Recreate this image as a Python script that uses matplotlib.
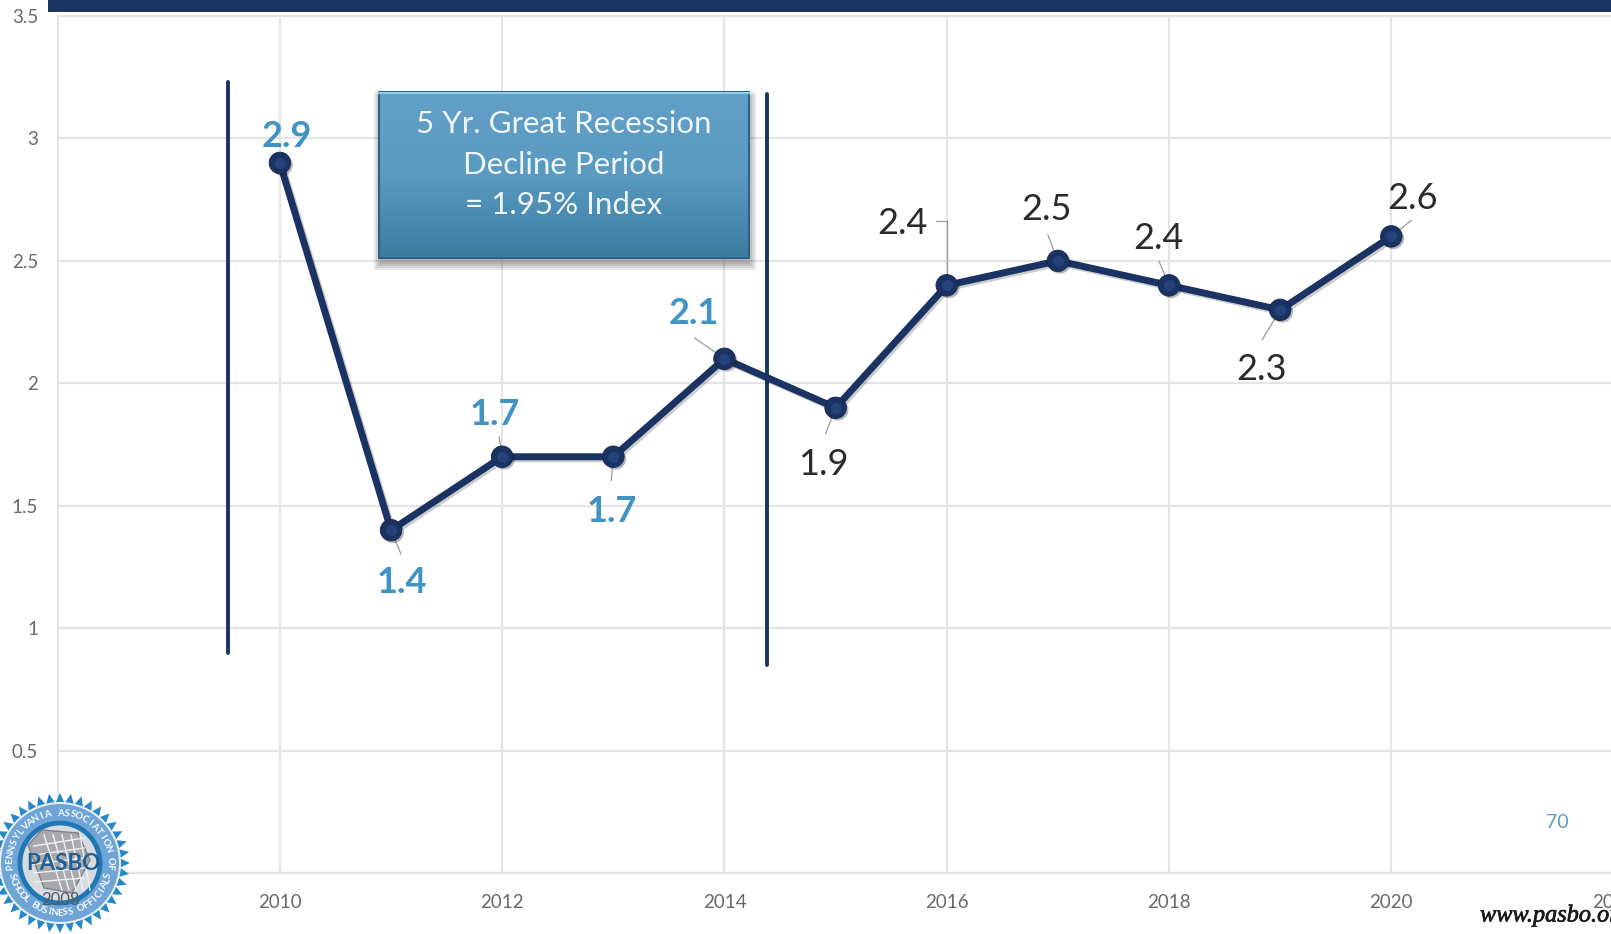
import numpy as np
import matplotlib
matplotlib.use('Agg')
import matplotlib.pyplot as plt
import matplotlib.patheffects as pe
from matplotlib.colors import LinearSegmentedColormap
from matplotlib.patches import Circle, Polygon, Rectangle

plt.rcParams['font.family'] = ['Lato', 'DejaVu Sans']

# Index values per year
years = [2010, 2011, 2012, 2013, 2014, 2015, 2016, 2017, 2018, 2019, 2020]
index_values = [2.9, 1.4, 1.7, 1.7, 2.1, 1.9, 2.4, 2.5, 2.4, 2.3, 2.6]
x_ticks = [2008, 2010, 2012, 2014, 2016, 2018, 2020, 2022]
y_ticks = [0, 0.5, 1, 1.5, 2, 2.5, 3, 3.5]
y_tick_labels = ['0', '0.5', '1', '1.5', '2', '2.5', '3', '3.5']
recession_years = [2010, 2011, 2012, 2013, 2014]
box_lines = ['5 Yr. Great Recession', 'Decline Period', '= 1.95% Index']

W, H = 1611, 934
NAVY = '#1b3362'
LABEL_BLUE = '#3f94c2'
GRID = '#e4e4e4'

# label offset from its point in pixels, and where its leader line starts
label_offsets = [(7, 26), (11, -52), (-7, 42), (-2, -55), (-31, 45),
                 (-12, -57), (-44, 62), (-11, 51), (-11, 47), (-19, -60), (21, 38)]
leader_ends = [None, (10, -24), (-3, 20), (-2, -24), (-30, 21),
               (-10, -26), (-11, 64), (-10, 26), (-10, 24), (-18, -30), (20, 16)]

fig = plt.figure(figsize=(W / 100, H / 100), dpi=100, facecolor='white')

# the axes run a little past the right edge of the figure, so 2022 gets cut off
ax = fig.add_axes([57.6 / W, (H - 873) / H, 1556 / W, 857 / H])
ax.set_xlim(2008, 2022)
ax.set_ylim(0, 3.5)
ax.set_xticks(x_ticks)
ax.set_yticks(y_ticks)
ax.set_yticklabels(y_tick_labels)
ax.grid(True, color=GRID, linewidth=1.6)
ax.set_axisbelow(True)
for s in ax.spines.values():
    s.set_color(GRID)
    s.set_linewidth(1.6)
ax.tick_params(length=0, colors='#68696c', labelsize=13.5, pad=15)
ax.tick_params(axis='y', pad=14)
for t in ax.get_xticklabels() + ax.get_yticklabels():
    t.set_clip_on(False)

# recession window markers
ax.plot([2009.53, 2009.53], [0.9, 3.23], color=NAVY, linewidth=2.8, solid_capstyle='round')
ax.plot([2014.38, 2014.38], [0.85, 3.18], color=NAVY, linewidth=2.8, solid_capstyle='round')

# main line with a soft drop shadow
ax.plot(years, index_values, color=NAVY, linewidth=5, solid_joinstyle='round', zorder=4,
        path_effects=[pe.SimpleLineShadow(offset=(1.5, -1.5), alpha=0.2, shadow_color='black'),
                      pe.Normal()])
ax.plot(years, index_values, linestyle='none', marker='o', markersize=15.5,
        markerfacecolor=NAVY, markeredgecolor='#16294f', markeredgewidth=0.6, zorder=5,
        path_effects=[pe.SimplePatchShadow(offset=(1.5, -1.5), alpha=0.3), pe.Normal()])
ax.plot(years, index_values, linestyle='none', marker='o', markersize=8,
        markerfacecolor='#25427a', markeredgecolor='none', zorder=6)

# value labels, blue inside the recession window
for i in range(len(years)):
    is_recession = years[i] in recession_years
    color = LABEL_BLUE if is_recession else '#2b2b2b'
    weight = 'bold' if is_recession else 'normal'
    ax.annotate(str(index_values[i]), xy=(years[i], index_values[i]),
                xytext=label_offsets[i], textcoords='offset pixels',
                ha='center', va='center', fontsize=26, color=color, fontweight=weight, zorder=7)
    if leader_ends[i] is not None:
        # 2016 has an elbow, the others run straight to the point
        conn = 'angle,angleA=0,angleB=90,rad=0' if years[i] == 2016 else 'arc3'
        ax.annotate('', xy=(years[i], index_values[i]), xytext=leader_ends[i],
                    textcoords='offset pixels', zorder=3,
                    arrowprops=dict(arrowstyle='-', color='#9a9a9a', linewidth=0.9,
                                    shrinkA=0, shrinkB=0, connectionstyle=conn))

# overlay in pixel coordinates for the slide furniture
over = fig.add_axes([0, 0, 1, 1], facecolor='none')
over.set_xlim(0, W)
over.set_ylim(H, 0)
over.axis('off')

over.add_patch(Rectangle((48, 0), W - 48, 12, color=NAVY, linewidth=0))

# callout box with vertical gradient, the shadow is a few stacked translucent rectangles
bx0, bx1, by0, by1 = 379, 749, 92, 258
for grow in [6, 4, 2, 0]:
    over.add_patch(Rectangle((bx0 - grow + 1, by0 - grow + 6), bx1 - bx0 + 2 * grow,
                             by1 - by0 + 2 * grow, color='#444444', alpha=0.12, linewidth=0))
box_cmap = LinearSegmentedColormap.from_list('box', ['#629fc6', '#5a9ac1', '#3b7ca1'])
over.imshow(np.linspace(0, 1, 200).reshape(-1, 1), cmap=box_cmap, aspect='auto',
            extent=(bx0, bx1, by1, by0), zorder=2)
over.add_patch(Rectangle((bx0, by0), bx1 - bx0, by1 - by0, fill=False,
                         edgecolor='#2f6384', linewidth=1.5, zorder=3))
over.plot([bx0, bx1], [by0 + 1, by0 + 1], color='#8ecbec', linewidth=1.5, zorder=3)
over.set_xlim(0, W)
over.set_ylim(H, 0)
for line, y in zip(box_lines, [124, 165, 205]):
    over.text((bx0 + bx1) / 2, y, line, color='#eef5f9', fontsize=22.5, ha='center',
              va='center', zorder=4)

over.text(1557, 823, '70', color='#5b9cc0', fontsize=14, ha='center', va='center')
over.text(1480, 916, 'www.pasbo.org', color='#1a1a1a', fontsize=17.5, fontstyle='italic',
          family='Liberation Serif', ha='left', va='center', clip_on=False,
          path_effects=[pe.withStroke(linewidth=0.5, foreground='#1a1a1a')])

# seal in the lower left corner
cx, cy = 60, 863
angles = np.linspace(0, 2 * np.pi, 81)[:-1]
radii = np.where(np.arange(80) % 2 == 0, 70, 60)
over.add_patch(Polygon(np.c_[cx + radii * np.cos(angles), cy + radii * np.sin(angles)],
                       closed=True, color='#2487c8', linewidth=0, zorder=5))
over.add_patch(Circle((cx, cy), 60, facecolor='#6ea5d6', edgecolor='#e8eef4', linewidth=1.5, zorder=6))
over.add_patch(Circle((cx, cy), 40, facecolor='#d6dbe0', edgecolor='#1f78b4', linewidth=3.5, zorder=6))
over.add_patch(Polygon([(28, 845), (42, 830), (78, 833), (90, 860), (72, 893), (44, 888)],
                       closed=True, facecolor='#a9a9ad', edgecolor='#7f8288', linewidth=1, zorder=7))
for i in range(5):
    over.plot([44 + i * 9, 62 + i * 7], [835, 890], color='#eef1f4', linewidth=1, zorder=7)
    over.plot([34, 84], [846 + i * 9, 838 + i * 10], color='#eef1f4', linewidth=1, zorder=7)
over.text(63, 863, 'PASBO', color='#1f5f94', fontsize=16, fontweight='bold', ha='center',
          va='center', zorder=8)
over.text(cx, 900, '2008', color='#555a60', fontsize=12, ha='center', va='center', zorder=8)


def arc_text(text, start, end, radius, flip=False):
    # one character at a time along a circle, angles in degrees from straight up
    for ch, a in zip(text, np.linspace(start, end, len(text))):
        r = np.radians(a)
        rot = 180 - a if flip else -a
        over.text(cx + radius * np.sin(r), cy - radius * np.cos(r), ch, color='#f4f7fa',
                  fontsize=7, fontweight='bold', rotation=rot, rotation_mode='anchor',
                  ha='center', va='center', zorder=8)


arc_text('PENNSYLVANIA ASSOCIATION OF', -95, 95, 50)
arc_text('SCHOOL BUSINESS OFFICIALS', 255, 105, 50, flip=True)

fig.savefig('out.png', dpi=100)
plt.close(fig)
